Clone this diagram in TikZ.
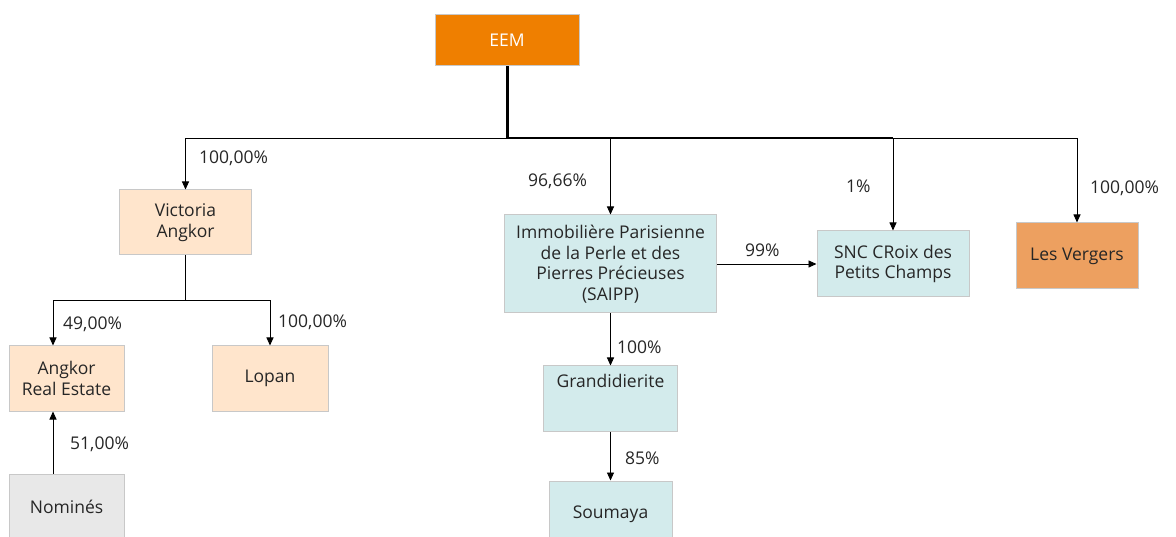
\documentclass[tikz,border=0pt]{standalone}
\usepackage{fontspec}
\setmainfont{Open Sans}
\usetikzlibrary{arrows.meta}
\definecolor{eemor}{HTML}{EF7F00}
\definecolor{peach}{HTML}{FFE5CC}
\definecolor{cyanl}{HTML}{D3EBEC}
\definecolor{grayl}{HTML}{E8E8E8}
\definecolor{verg}{HTML}{EDA060}
\definecolor{bord}{HTML}{C8C8C8}
\tikzset{
  box/.style={draw=bord, line width=1pt, minimum width=#1, inner sep=0pt, align=center, font=\fontsize{17.5}{20.5}\selectfont, text=black!85},
  arr/.style={-{Triangle[width=7pt,length=8pt]}, line width=0.9pt},
  pct/.style={anchor=west, inner sep=0pt, font=\fontsize{17.5}{20.5}\selectfont, text=black!85},
}
\begin{document}
\begin{tikzpicture}[x=1pt,y=-1pt]
\useasboundingbox (0,0) rectangle (1176,537);
\node[box=144pt, minimum height=51pt, fill=eemor, text=white] (eem) at (507,40.5) {EEM};
\node[box=132pt, minimum height=65pt, fill=peach] (victoria) at (185.5,222.5) {Victoria\\Angkor};
\node[box=115pt, minimum height=65pt, fill=peach] (angkor) at (66.5,378.5) {Angkor\\Real Estate};
\node[box=116pt, minimum height=65pt, fill=peach] (lopan) at (270,378.5) {Lopan};
\node[box=115pt, minimum height=66pt, fill=grayl] (nomines) at (66.5,507) {Nominés};
\node[box=212pt, minimum height=98pt, fill=cyanl] (saipp) at (610.5,264) {Immobilière Parisienne\\de la Perle et des\\Pierres Précieuses\\(SAIPP)};
\node[box=152pt, minimum height=66pt, fill=cyanl] (snc) at (893,264) {SNC CRoix des\\Petits Champs};
\node[box=122pt, minimum height=66pt, fill=verg] (vergers) at (1077,256) {Les Vergers};
\node[box=134pt, minimum height=65pt, fill=cyanl] (grand) at (610.5,398.5) {Grandidierite\\[15pt]\mbox{}};
\node[box=123pt, minimum height=66pt, fill=cyanl] (soumaya) at (610.5,514) {Soumaya};

\coordinate (bus) at (507,138);
\coordinate (vbus) at (185.5,300);
\draw[line width=3pt] (eem.south) -- (bus);
\draw[arr] (bus) -| (victoria.north);
\draw[arr] (bus) -| (saipp.north);
\draw[arr] (bus) -| (snc.north);
\draw[arr] (bus) -| (vergers.north);
\draw[line width=1.8pt] (bus) -- (snc.north |- bus);
\draw[line width=0.9pt] (victoria.south) -- (vbus);
\draw[arr] (vbus) -| ([xshift=-13.5pt]angkor.north);
\draw[arr] (vbus) -| (lopan.north);
\draw[arr] ([xshift=-13.5pt]nomines.north) -- ([xshift=-13.5pt]angkor.south);
\draw[arr] (saipp.east) -- (snc.west);
\draw[arr] (saipp.south) -- (grand.north);
\draw[arr] (grand.south) -- (soumaya.north);

\node[pct] (p1) at (199,158) {100,00\%};
\node[pct] (p2) at (63,324) {49,00\%};
\node[pct] (p3) at (278,322) {100,00\%};
\node[pct] (p4) at (70,444) {51,00\%};
\node[pct] (p5) at (528,181) {96,66\%};
\node[pct] (p6) at (846,186) {1\%};
\node[pct] (p7) at (745,250) {99\%};
\node[pct] (p8) at (1090,188) {100,00\%};
\node[pct] (p9) at (617,347) {100\%};
\node[pct] (p10) at (625,458) {85\%};
\end{tikzpicture}
\end{document}
